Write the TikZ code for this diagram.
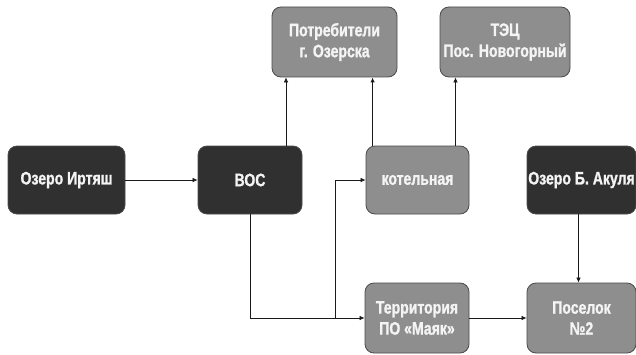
\documentclass[tikz,border=0pt]{standalone}
\usepackage{fontspec}
\setmainfont{Liberation Sans}[
  FakeStretch=0.78,
  BoldFont={Liberation Sans Bold},
  BoldFeatures={FakeStretch=0.78, FakeBold=1.2},
]
\usepackage{tikz}
\usetikzlibrary{
  arrows.meta,
  positioning,
  calc,
}
\definecolor{coal}{HTML}{303030}
\definecolor{ash}{HTML}{8E8E8E}
\definecolor{rim}{HTML}{4A4A4A}
\definecolor{wire}{HTML}{1A1A1A}
\definecolor{ink}{HTML}{F4F4F4}
\tikzset{
  >={Latex[length=5pt,width=4.5pt]},
  font=\bfseries\fontsize{18}{21}\selectfont,
  darkbox/.style={
    draw=rim,
    fill=coal,
    line width=0.8pt,
    rounded corners=9pt,
    minimum height=68pt,
    align=center,
    inner sep=1pt,
    text=ink,
  },
  greybox/.style={
    darkbox,
    fill=ash,
    minimum height=70pt,
  },
  link/.style={draw=wire, line width=0.7pt, ->},
}

\begin{document}
\begin{tikzpicture}[x=1pt,y=1pt]
  \useasboundingbox[fill=white] (0,0) rectangle (636,354);

  % middle row
  \node[darkbox, minimum width=117pt] (irtyash) at (66.5,174) {Озеро Иртяш};
  \node[darkbox, minimum width=104pt] (vos) at (250,174) {ВОС};
  \node[greybox, minimum height=68pt, minimum width=103pt] (kotel) at (417.5,174) {котельная};
  \node[darkbox, minimum width=109pt] (akulya) at (581.5,174) {Озеро Б. Акуля};

  % top row
  \node[greybox, minimum width=125pt] (potreb) at (334.5,312) {Потребители\\г. Озерска};
  \node[greybox, minimum width=130pt] (tec) at (505,312) {ТЭЦ\\Пос. Новогорный};

  % bottom row
  \node[greybox, minimum width=104pt] (territ) at (417,36) {Территория\\ПО «Маяк»};
  \node[greybox, minimum width=109pt] (posel) at (581.5,36) {Поселок\\№2};

  \draw[link] (irtyash) -- (vos);
  \draw[link] ([xshift=36pt]vos.north) -- ([xshift=36pt]vos.north |- potreb.south);
  \draw[link, line width=1.5pt] ([xshift=7pt]kotel.north west) -- ([xshift=7pt]kotel.north west |- potreb.south);
  \draw[link] ([xshift=38pt]kotel.north) -- ([xshift=38pt]kotel.north |- tec.south);
  \draw[link] (vos.south) |- (territ.west);
  \coordinate (fork) at ([xshift=-29pt]territ.west);
  \draw[link] (fork) |- (kotel.west);
  \draw[link] ([xshift=-3pt]akulya.south) -- ([xshift=-3pt]posel.north);
  \draw[link] (territ) -- (posel);
\end{tikzpicture}
\end{document}
